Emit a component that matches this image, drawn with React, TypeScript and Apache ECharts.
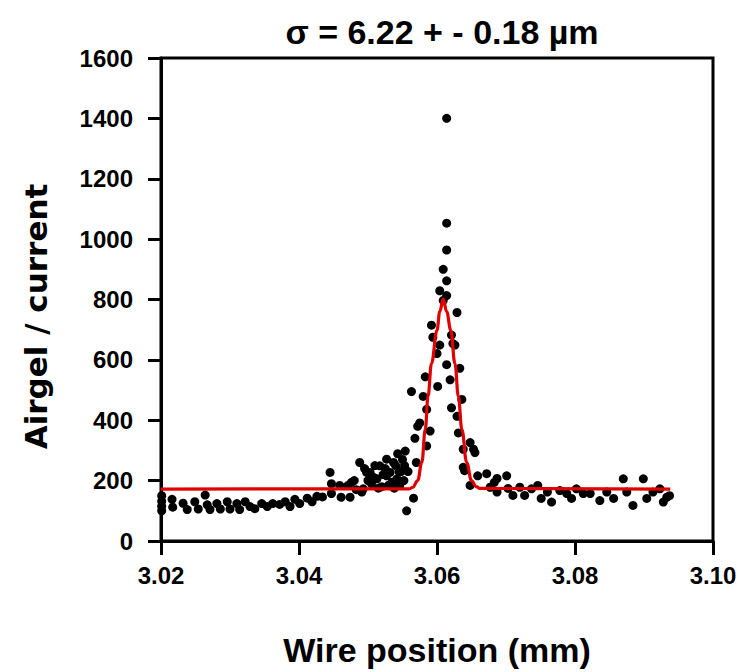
import React, { useEffect, useRef } from "react";
import * as echarts from "echarts";

const titleText = "σ = 6.22 + - 0.18 µm";
const xTickLabels = ["3.02", "3.04", "3.06", "3.08", "3.10"];
const yTickLabels = ["0", "200", "400", "600", "800", "1000", "1200", "1400", "1600"];

const leftBaseline: [number, number][] = [
  [3.0201, 150], [3.0201, 132], [3.0201, 115], [3.0201, 100], [3.0216, 138], [3.0217, 112],
  [3.0232, 125], [3.0238, 104], [3.0249, 130], [3.0254, 106], [3.0264, 152], [3.0267, 120],
  [3.0271, 104], [3.0281, 124], [3.0286, 106], [3.0296, 130], [3.03, 106], [3.031, 124],
  [3.0314, 104], [3.0322, 130], [3.0329, 114], [3.0336, 107], [3.0346, 124], [3.0354, 114],
  [3.0362, 124], [3.0372, 121], [3.038, 130], [3.0387, 114], [3.0394, 138], [3.0401, 124],
  [3.0412, 142], [3.0419, 130], [3.0426, 148], [3.0434, 146],
];

const leftShoulder: [number, number][] = [
  [3.0445, 227], [3.0447, 190], [3.0447, 157], [3.0459, 184], [3.0461, 145], [3.0471, 184],
  [3.0474, 145], [3.0476, 194], [3.048, 200], [3.0483, 170], [3.0488, 260], [3.0491, 162],
  [3.0493, 173], [3.0495, 240], [3.0498, 227], [3.05, 200], [3.0503, 227], [3.0505, 190],
  [3.0508, 211], [3.051, 250], [3.0513, 206], [3.0515, 175], [3.0517, 249], [3.052, 180],
  [3.0522, 220], [3.0525, 240], [3.0527, 271], [3.0527, 216], [3.053, 185], [3.0532, 227],
  [3.0535, 195], [3.0537, 260], [3.0538, 175], [3.054, 250], [3.0542, 206], [3.0543, 289],
  [3.0545, 230], [3.0546, 184], [3.0548, 230], [3.055, 270], [3.0552, 200], [3.0553, 250],
  [3.0554, 298], [3.0556, 100], [3.0558, 230], [3.0566, 142],
];

const peakPoints: [number, number][] = [
  [3.0563, 495], [3.0568, 340], [3.057, 260], [3.0572, 380], [3.0575, 391], [3.058, 479],
  [3.0583, 544], [3.0585, 436], [3.0585, 315], [3.059, 364], [3.0592, 715], [3.0594, 675],
  [3.06, 621], [3.0601, 512], [3.0604, 829], [3.0604, 649], [3.0609, 797], [3.0609, 900],
  [3.0614, 1400], [3.0614, 1053], [3.0614, 964], [3.0614, 862], [3.0614, 813], [3.0614, 584],
  [3.0619, 534], [3.0621, 682], [3.0621, 441], [3.0623, 654], [3.0626, 649], [3.0629, 757],
  [3.0629, 413], [3.0631, 358], [3.0633, 572], [3.0636, 469], [3.0638, 304], [3.0638, 244],
  [3.064, 233], [3.0648, 326], [3.0648, 184], [3.0653, 304], [3.0655, 293],
];

const rightBaseline: [number, number][] = [
  [3.0659, 216], [3.0672, 223], [3.0677, 178], [3.0683, 194], [3.0687, 162], [3.0687, 207],
  [3.0701, 216], [3.0703, 174], [3.071, 151], [3.072, 178], [3.0727, 151], [3.0737, 173],
  [3.0746, 184], [3.0751, 141], [3.076, 162], [3.0766, 129], [3.0778, 167], [3.0788, 157],
  [3.0795, 141], [3.0802, 173], [3.0812, 157], [3.0822, 157], [3.0836, 134], [3.0846, 162],
  [3.0856, 141], [3.087, 206], [3.0875, 162], [3.0884, 118], [3.0899, 206], [3.0904, 141],
  [3.0913, 162], [3.0923, 173], [3.0928, 129], [3.0933, 145], [3.0937, 150],
];

const fitX = [3.02, 3.056, 3.0565, 3.0572, 3.0578, 3.0583, 3.0587, 3.0592, 3.06, 3.0604, 3.0609, 3.0614, 3.062, 3.0626, 3.0631, 3.0636, 3.0643, 3.065, 3.0657, 3.0662, 3.0938];
const fitY = [172, 173, 178, 200, 260, 370, 479, 588, 698, 760, 801, 760, 698, 588, 479, 370, 260, 200, 180, 174, 172];

const FONT = "Liberation Sans, Arial, sans-serif";
const WIDE = "DejaVu Sans, sans-serif";

export default function App() {
  const ref = useRef<HTMLDivElement>(null);
  useEffect(() => {
    const chart = echarts.init(ref.current!, null, { renderer: "svg" });
    const scatterData = [...leftBaseline, ...leftShoulder, ...peakPoints, ...rightBaseline];
    const fitData = fitX.map((x, i) => [x, fitY[i]]);
    chart.setOption({
      animation: false,
      backgroundColor: "#ffffff",
      graphic: [
        {
          type: "text",
          x: 442,
          y: 32,
          style: { text: titleText, fill: "#000", font: `bold 34px ${FONT}`, align: "center", verticalAlign: "middle" },
        },
      ],
      grid: {
        left: 161, right: 27, top: 58, bottom: 126,
        show: true, borderColor: "#000", borderWidth: 3, backgroundColor: "transparent",
      },
      xAxis: {
        type: "value", min: 3.02, max: 3.1, interval: 0.02,
        axisLine: { show: true, onZero: false, lineStyle: { color: "#000", width: 3 } },
        axisTick: { show: true, inside: false, length: 14, lineStyle: { color: "#000", width: 3 } },
        axisLabel: {
          margin: 22, color: "#000", fontSize: 24, fontWeight: "bold", fontFamily: FONT,
          formatter: (v: number) => xTickLabels[Math.round((v - 3.02) / 0.02)] ?? v.toFixed(2),
        },
        splitLine: { show: false },
        name: "Wire position (mm)", nameLocation: "middle", nameGap: 92,
        nameTextStyle: { color: "#000", fontSize: 34, fontWeight: "bold", fontFamily: FONT },
      },
      yAxis: {
        type: "value", min: 0, max: 1600, interval: 200,
        axisLine: { show: true, onZero: false, lineStyle: { color: "#000", width: 3 } },
        axisTick: { show: true, inside: false, length: 13, lineStyle: { color: "#000", width: 3 } },
        axisLabel: {
          margin: 28, color: "#000", fontSize: 24, fontWeight: "bold", fontFamily: FONT,
          formatter: (v: number) => yTickLabels[Math.round(v / 200)] ?? String(v),
        },
        splitLine: { show: false },
        name: "Airgel / current", nameLocation: "middle", nameGap: 110,
        nameTextStyle: { color: "#000", fontSize: 31, fontWeight: "bold", fontFamily: WIDE, padding: [0, 34, 0, 0] },
      },
      series: [
        {
          type: "scatter", data: scatterData, symbol: "circle", symbolSize: 9,
          itemStyle: { color: "#000", opacity: 1 }, z: 2,
        },
        {
          type: "line", data: fitData, smooth: 0.4, smoothMonotone: "x", showSymbol: false,
          lineStyle: { color: "#e00000", width: 3.2 }, z: 3,
        },
      ],
    });
    return () => chart.dispose();
  }, []);
  return <div ref={ref} style={{ position: "absolute", left: 0, top: 0, width: 740, height: 672 }} />;
}
